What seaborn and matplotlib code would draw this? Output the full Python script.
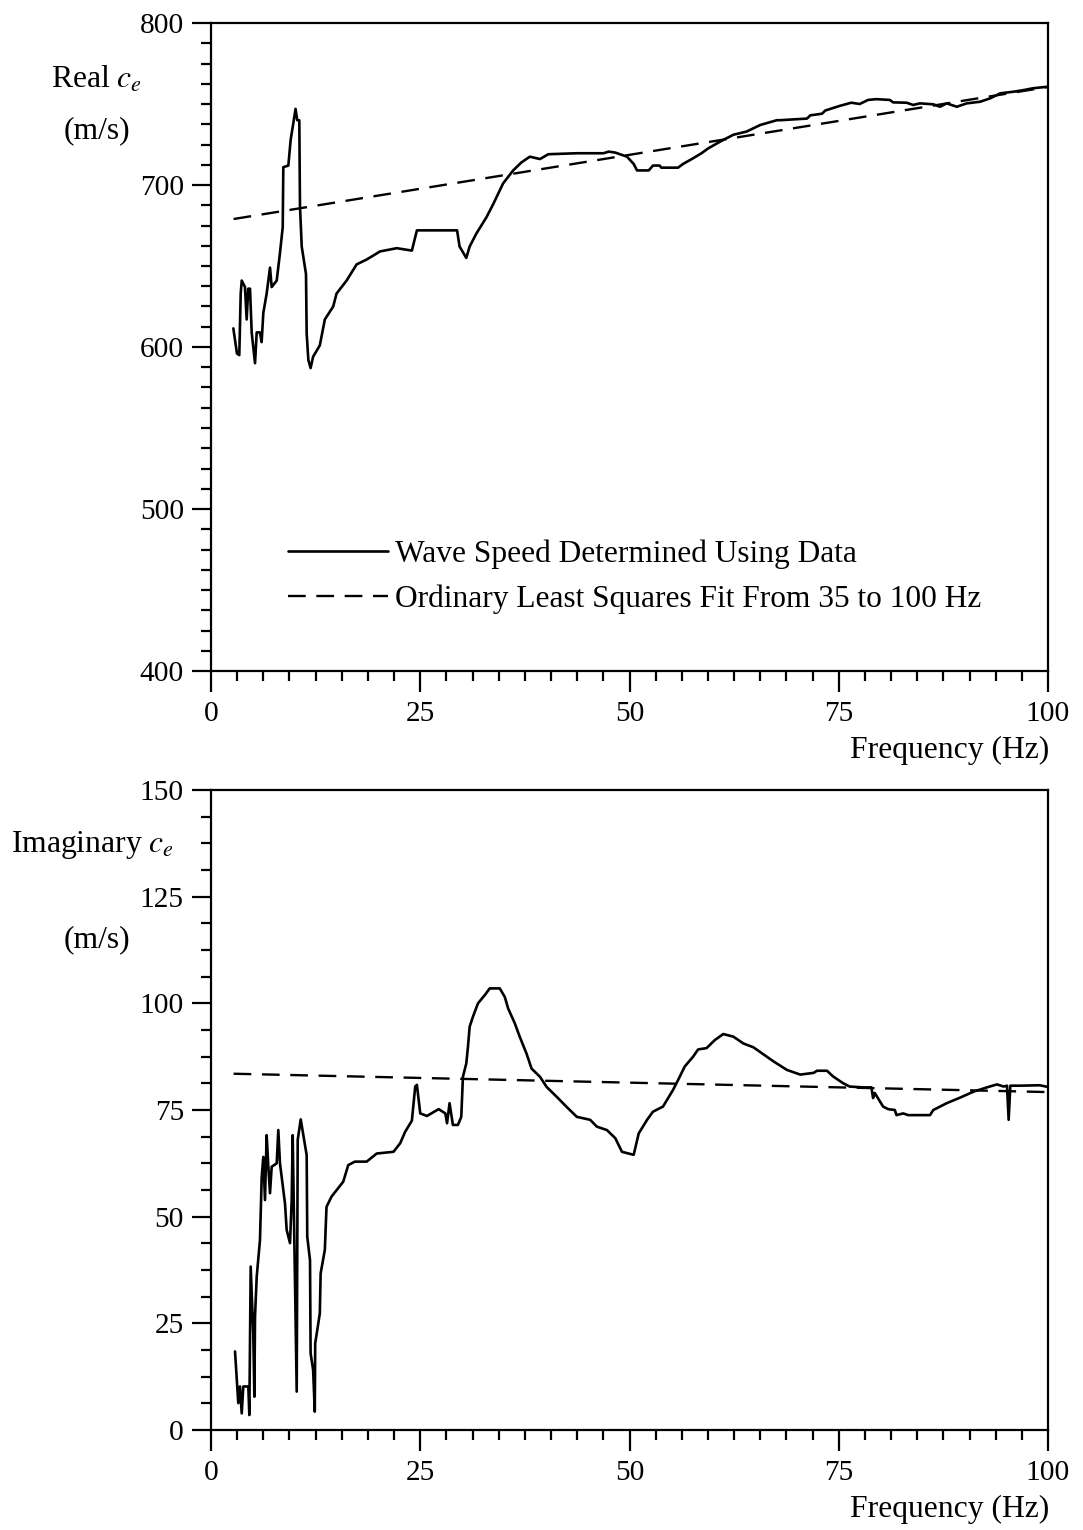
import matplotlib
matplotlib.use("Agg")
import matplotlib.pyplot as plt
from matplotlib.ticker import MultipleLocator
import seaborn as sns
import pandas as pd

# Real part of the effective wave speed (m/s) vs frequency (Hz)
real_freq = [2.67, 3.1, 3.38, 3.55, 3.67, 4.06, 4.26, 4.45, 4.66, 4.86, 5.26, 5.46, 5.85,
             6.05, 6.25, 6.65, 7.05, 7.25, 7.85, 8.24, 8.57, 8.64, 9.24, 9.52, 9.83, 10.1,
             10.3, 10.55, 10.63, 10.84, 11.35, 11.43, 11.63, 11.9, 12.2, 13.0, 13.6, 14.6,
             15.0, 16.2, 17.4, 18.6, 20.2, 22.2, 24.0, 24.6, 29.4, 29.7, 30.5, 30.9, 31.7,
             32.9, 33.7, 34.9, 36.1, 37.1, 38.1, 39.3, 40.3, 43.7, 46.9, 47.5, 48.3, 49.7,
             50.5, 50.9, 52.3, 52.8, 53.6, 53.8, 55.8, 56.4, 57.6, 58.6, 59.4, 60.8, 62.4,
             64.0, 65.6, 67.6, 68.0, 71.2, 71.6, 73.0, 73.4, 75.1, 76.5, 77.5, 78.5, 79.5,
             81.1, 81.5, 83.1, 83.9, 84.7, 86.3, 87.1, 87.9, 89.1, 90.3, 91.9, 93.1, 94.3,
             95.9, 97.1, 98.2, 100.0]
real_speed = [611.5, 596, 595, 633, 641, 637, 617, 636, 636, 609, 590, 609, 609,
              603, 621, 633, 649, 637, 641, 658, 674, 711, 712, 728, 738, 747,
              740, 740, 687, 662, 645, 608.5, 592, 587, 594, 601, 617, 625,
              633, 641, 651, 654, 659, 661, 659.5, 672, 672, 662, 655, 662, 670,
              680, 688, 701, 709, 714, 717.5, 716, 719, 719.6, 719.6, 720.6, 720, 717.5,
              713, 709, 709, 712, 712, 710.7, 710.7, 713, 716.5, 719.6, 722.6, 726.7, 731,
              733, 737, 740, 740, 741, 743, 744, 746, 748.8, 750.8, 750, 752.5, 753,
              752.5, 751, 750.8, 749.4, 750.4, 749.8, 748.3, 750.4, 748.3, 750.4, 751.4, 753.5, 756.6,
              757.6, 758.6, 759.7, 760.7]

# Imaginary part of the effective wave speed (m/s) vs frequency (Hz)
imag_freq = [2.87, 3.26, 3.46, 3.67, 3.86, 4.46, 4.58, 4.74, 5.05, 5.18, 5.26, 5.46, 5.85,
             6.06, 6.25, 6.45, 6.65, 6.85, 7.05, 7.25, 7.85, 8.04, 8.24, 8.84, 9.04, 9.44,
             9.64, 9.76, 10.24, 10.36, 10.72, 11.43, 11.5, 11.83, 11.9, 12.2, 12.4, 12.45,
             13.0, 13.1, 13.6, 13.8, 14.4, 15.0, 15.8, 16.4, 17.2, 18.6, 19.8, 21.8, 22.6,
             23.2, 24.0, 24.4, 24.6, 25.0, 25.8, 27.2, 28.0, 28.2, 28.5, 28.9, 29.5, 29.9,
             30.1, 30.5, 30.7, 30.9, 31.3, 31.9, 32.7, 33.3, 34.5, 35.1, 35.5, 36.3, 36.9,
             37.7, 38.3, 39.3, 40.1, 41.3, 42.5, 43.7, 45.3, 46.1, 47.3, 48.3, 49.1, 50.5,
             51.1, 52.1, 52.8, 54.0, 55.2, 55.8, 56.6, 57.6, 58.2, 59.2, 60.2, 61.2, 62.4,
             63.6, 64.8, 66.4, 67.2, 68.8, 70.4, 72.0, 72.4, 73.6, 74.3, 75.5, 76.3, 77.9,
             78.9, 79.1, 79.3, 80.3, 80.9, 81.7, 81.9, 82.7, 83.3, 85.9, 86.3, 87.9, 89.5,
             91.1, 92.7, 93.9, 94.7, 95.1, 95.3, 95.5, 96.7, 99.0, 100.0]
imag_speed = [18.4, 6.3, 10.2, 3.9, 10.2, 10.2, 3.5, 38.3, 22.7, 7.8, 26.6, 35.9, 44.5,
              59.4, 64, 53.9, 69.1, 61.7, 55.5, 61.7, 62.5, 70.3, 62.5, 53.1, 46.9, 43.8,
              53.9, 69.1, 9.0, 68.0, 72.8, 64.4, 45.3, 39.8, 18.0, 14.1, 4.3, 20.3,
              27.3, 36.7, 42.2, 52.3, 54.7, 56.2, 58.2, 62.1, 62.9, 62.9, 64.8, 65.2, 67.2,
              69.9, 72.5, 80.5, 80.9, 74.2, 73.6, 75.2, 74.2, 71.9, 76.6, 71.5, 71.5, 73.4,
              82.8, 85.9, 89.8, 94.5, 96.9, 100.0, 101.9, 103.5, 103.5, 101.5, 98.8, 95.3, 92.1,
              88.2, 84.7, 82.8, 80.4, 78.1, 75.7, 73.4, 72.7, 71.1, 70.3, 68.4, 65.2, 64.5,
              69.5, 72.7, 74.6, 75.8, 79.7, 82.0, 85.2, 87.5, 89.2, 89.5, 91.4, 92.8, 92.2,
              90.6, 89.7, 87.5, 86.4, 84.4, 83.3, 83.7, 84.2, 84.2, 82.9, 81.3, 80.5, 80.3,
              80.3, 77.8, 79.0, 75.8, 75.2, 75.0, 73.8, 74.2, 73.8, 73.8, 75.0, 76.6, 77.9,
              79.3, 80.3, 81.0, 80.5, 80.7, 72.7, 80.7, 80.7, 80.8, 80.4]

# Ordinary least squares fits (35-100 Hz), end points of the fitted lines
fit_freq = [2.7, 100.0]
fit_real = [679.0, 760.5]
fit_imag = [83.5, 79.2]

labels = ["Wave Speed Determined Using Data",
          "Ordinary Least Squares Fit From 35 to 100 Hz"]

sns.set_style("ticks")
plt.rcParams["font.family"] = ["Liberation Serif", "DejaVu Serif"]
plt.rcParams["mathtext.fontset"] = "stix"
plt.rcParams["text.color"] = "black"

W, H = 1083, 1530
fig = plt.figure(figsize=(W / 100, H / 100), dpi=100)
ax1 = fig.add_axes([211 / W, 1 - 671 / H, 837 / W, 648 / H])
ax2 = fig.add_axes([211 / W, 1 - 1430 / H, 837 / W, 640 / H])

real_df = pd.DataFrame({"freq": real_freq, "speed": real_speed})
imag_df = pd.DataFrame({"freq": imag_freq, "speed": imag_speed})

line_kw = dict(color="black", linewidth=1.9, sort=False, estimator=None)
dash_kw = dict(color="black", linewidth=1.7, sort=False, estimator=None,
               linestyle=(0, (7.5, 4.5)))

sns.lineplot(data=real_df, x="freq", y="speed", ax=ax1, label=labels[0], **line_kw)
sns.lineplot(x=fit_freq, y=fit_real, ax=ax1, label=labels[1], **dash_kw)
sns.lineplot(data=imag_df, x="freq", y="speed", ax=ax2, legend=False, **line_kw)
sns.lineplot(x=fit_freq, y=fit_imag, ax=ax2, legend=False, **dash_kw)

ax1.set_ylim(400, 800)
ax2.set_ylim(0, 150)
ax1.yaxis.set_major_locator(MultipleLocator(100))
ax1.yaxis.set_minor_locator(MultipleLocator(12.5))
ax2.yaxis.set_major_locator(MultipleLocator(25))
ax2.yaxis.set_minor_locator(MultipleLocator(6.25))

for ax in (ax1, ax2):
    ax.set_xlim(0, 100)
    ax.xaxis.set_major_locator(MultipleLocator(25))
    ax.xaxis.set_minor_locator(MultipleLocator(3.125))
    ax.set_xlabel("")
    ax.set_ylabel("")
    for sp in ax.spines.values():
        sp.set_visible(True)
        sp.set_linewidth(1.6)
        sp.set_color("black")
    ax.tick_params(axis="both", which="major", direction="out", length=14,
                   width=1.6, color="black", labelsize=21.2, labelcolor="black")
    ax.tick_params(axis="both", which="minor", direction="out", length=7,
                   width=1.6, color="black")
    ax.tick_params(axis="x", which="major", length=15, pad=6.5)
    ax.tick_params(axis="y", which="major", pad=5.5)
    ax.grid(False)

leg = ax1.legend(loc="center left", bbox_to_anchor=(0.092, 0.146), frameon=False,
                 fontsize=22.6, handlelength=3.2, handletextpad=0.2,
                 labelspacing=0.5, borderpad=0, borderaxespad=0)
for t in leg.get_texts():
    t.set_color("black")


def ftext(x, y, s, **kw):
    fig.text(x / W, 1 - y / H, s, fontsize=22.8, color="black", va="baseline", **kw)


ftext(97, 88, "Real $c_e$", ha="center")
ftext(97, 138, "(m/s)", ha="center")
ftext(93, 852, "Imaginary $c_e$", ha="center")
ftext(97, 947, "(m/s)", ha="center")
ftext(1049, 758, "Frequency (Hz)", ha="right")
ftext(1049, 1517, "Frequency (Hz)", ha="right")

fig.savefig("out.png", dpi=100, facecolor="white")
